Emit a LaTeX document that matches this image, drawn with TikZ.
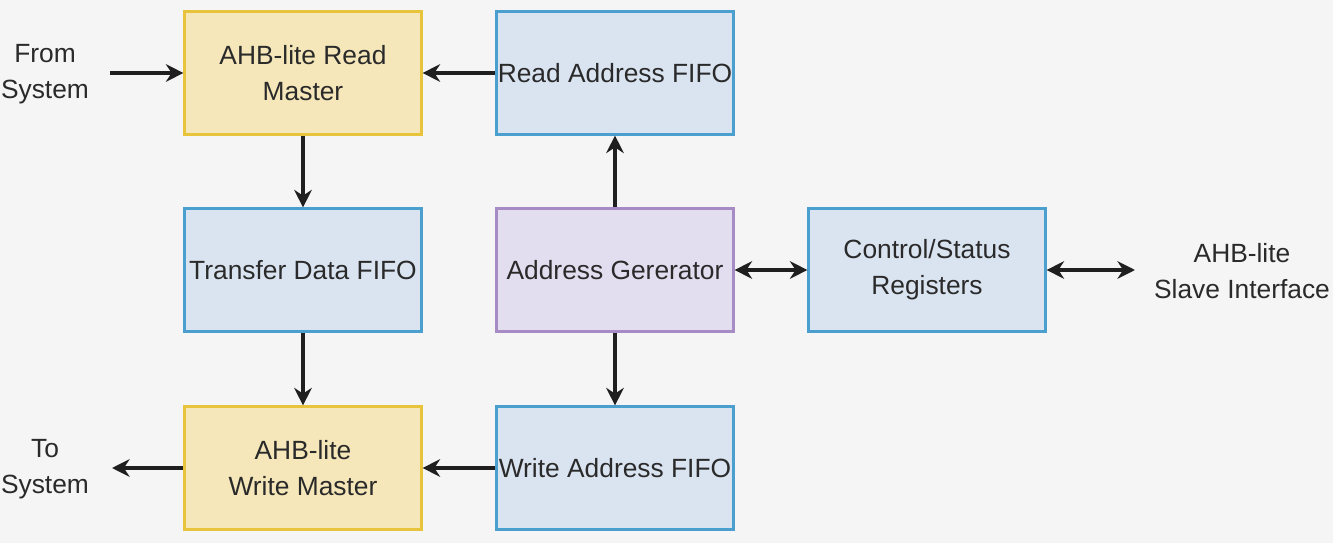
\documentclass[tikz,border=0pt]{standalone}
\usepackage{fontspec}
\setmainfont{Liberation Sans}
\usetikzlibrary{arrows.meta}
\definecolor{bgcol}{HTML}{F5F5F5}
\definecolor{yfill}{HTML}{F5E7B9}
\definecolor{ydraw}{HTML}{E8C43C}
\definecolor{bfill}{HTML}{DAE4F1}
\definecolor{bdraw}{HTML}{4A9FCF}
\definecolor{pfill}{HTML}{E2DEF0}
\definecolor{pdraw}{HTML}{A78BC5}
\definecolor{txt}{HTML}{2A2A2A}
\begin{document}
\begin{tikzpicture}[>={Stealth[length=10pt,width=10pt]},
  font=\fontsize{15}{20.5}\selectfont, text=txt,
  block/.style={draw, line width=1.2pt, minimum width=4.74cm, minimum height=2.46cm, align=center, inner sep=0pt},
  yblock/.style={block, fill=yfill, draw=ydraw},
  bblock/.style={block, fill=bfill, draw=bdraw},
  pblock/.style={block, fill=pfill, draw=pdraw},
  plain/.style={align=center, inner sep=0pt},
  link/.style={line width=2.5pt, draw=black!88}]
\fill[bgcol] (0,0) rectangle (26.66,-10.86);
\useasboundingbox (0,0) rectangle (26.66,-10.86);
\node[yblock] (RM) at (6.06, -1.46) {AHB-lite Read\\Master};
\node[bblock] (RF) at (12.30, -1.46) {Read Address FIFO};
\node[bblock] (TF) at (6.06, -5.40) {Transfer Data FIFO};
\node[pblock] (AG) at (12.30, -5.40) {Address Gererator};
\node[bblock] (CS) at (18.54, -5.40) {Control/Status\\Registers};
\node[yblock] (WM) at (6.06, -9.36) {AHB-lite\\Write Master};
\node[bblock] (WF) at (12.30, -9.36) {Write Address FIFO};
\node[plain] (FS) at (0.90, -1.48) {From\\System};
\node[plain] (TS) at (0.90, -9.38) {To\\System};
\node[plain] (SI) at (24.84, -5.42) {AHB-lite\\Slave Interface};
\coordinate (FSe) at (2.20, -1.46);
\coordinate (TSe) at (2.24, -9.36);
\coordinate (SIe) at (22.70, -5.40);
\draw[link, ->] (FSe) -- (RM);
\draw[link, ->] (RF) -- (RM);
\draw[link, ->] (RM) -- (TF);
\draw[link, ->] (TF) -- (WM);
\draw[link, ->] (AG) -- (RF);
\draw[link, ->] (AG) -- (WF);
\draw[link, ->] (WF) -- (WM);
\draw[link, ->] (WM) -- (TSe);
\draw[link, <->] (AG) -- (CS);
\draw[link, <->] (CS) -- (SIe);
\end{tikzpicture}
\end{document}
